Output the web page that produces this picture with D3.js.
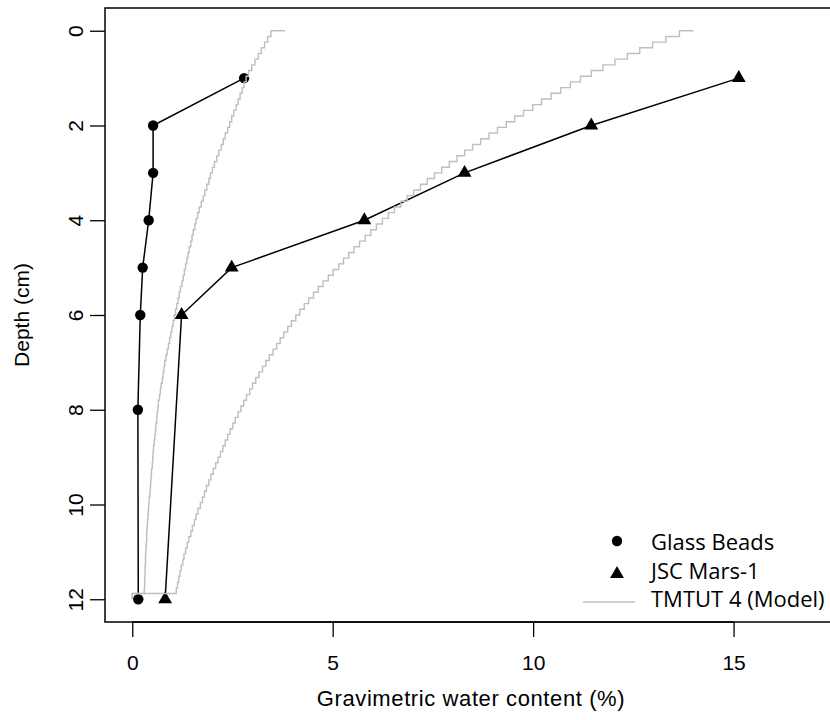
<!DOCTYPE html>
<html>
<head>
<meta charset="utf-8">
<script src="https://cdn.jsdelivr.net/npm/d3@7"></script>
<style>
  body { margin: 0; background: #fff; }
  figure { margin: 0; }
  svg { display: block; }
</style>
</head>
<body>
<figure></figure>
<script>
// measured profiles
const glassDepth = [1, 2, 3, 4, 5, 6, 8, 12];
const glassWater = [2.79, 0.52, 0.52, 0.41, 0.26, 0.20, 0.14, 0.15];

const marsDepth = [1, 2, 3, 4, 5, 6, 12];
const marsWater = [15.13, 11.45, 8.29, 5.79, 2.48, 1.23, 0.82];

// TMTUT 4 model output, one value per 0.12 cm layer
const modelDepth = [
  0.00, 0.12, 0.24, 0.36, 0.48, 0.60, 0.72, 0.84, 0.96, 1.08,
  1.20, 1.32, 1.44, 1.56, 1.68, 1.80, 1.92, 2.04, 2.16, 2.28,
  2.40, 2.52, 2.64, 2.76, 2.88, 3.00, 3.12, 3.24, 3.36, 3.48,
  3.60, 3.72, 3.84, 3.96, 4.08, 4.20, 4.32, 4.44, 4.56, 4.68,
  4.80, 4.92, 5.04, 5.16, 5.28, 5.40, 5.52, 5.64, 5.76, 5.88,
  6.00, 6.12, 6.24, 6.36, 6.48, 6.60, 6.72, 6.84, 6.96, 7.08,
  7.20, 7.32, 7.44, 7.56, 7.68, 7.80, 7.92, 8.04, 8.16, 8.28,
  8.40, 8.52, 8.64, 8.76, 8.88, 9.00, 9.12, 9.24, 9.36, 9.48,
  9.60, 9.72, 9.84, 9.96, 10.08, 10.20, 10.32, 10.44, 10.56, 10.68,
  10.80, 10.92, 11.04, 11.16, 11.28, 11.40, 11.52, 11.64, 11.76, 11.88,
  12.00
];
const modelGlass = [
  3.81, 3.46, 3.38, 3.30, 3.22, 3.14, 3.06, 2.98, 2.90, 2.84,
  2.79, 2.74, 2.69, 2.64, 2.59, 2.53, 2.48, 2.43, 2.38, 2.32,
  2.27, 2.22, 2.16, 2.11, 2.05, 2.00, 1.95, 1.91, 1.86, 1.81,
  1.77, 1.72, 1.67, 1.63, 1.59, 1.56, 1.52, 1.49, 1.46, 1.42,
  1.39, 1.36, 1.33, 1.30, 1.27, 1.24, 1.20, 1.17, 1.14, 1.11,
  1.08, 1.05, 1.02, 0.99, 0.96, 0.93, 0.90, 0.87, 0.84, 0.81,
  0.79, 0.77, 0.75, 0.72, 0.70, 0.68, 0.65, 0.64, 0.62, 0.61,
  0.59, 0.58, 0.56, 0.55, 0.53, 0.52, 0.51, 0.50, 0.48, 0.47,
  0.46, 0.45, 0.44, 0.42, 0.41, 0.40, 0.39, 0.38, 0.37, 0.36,
  0.36, 0.35, 0.34, 0.33, 0.33, 0.32, 0.32, 0.31, 0.31, 0.30,
  0
];
const modelMars = [
  14.00, 13.65, 13.31, 12.98, 12.66, 12.35, 12.04, 11.74, 11.45, 11.18,
  10.93, 10.69, 10.45, 10.21, 9.99, 9.76, 9.54, 9.33, 9.11, 8.90,
  8.69, 8.49, 8.29, 8.10, 7.91, 7.72, 7.54, 7.36, 7.19, 7.02,
  6.86, 6.70, 6.54, 6.39, 6.24, 6.09, 5.95, 5.81, 5.67, 5.53,
  5.40, 5.27, 5.15, 5.01, 4.89, 4.76, 4.64, 4.52, 4.40, 4.29,
  4.18, 4.08, 3.97, 3.88, 3.78, 3.69, 3.60, 3.51, 3.42, 3.33,
  3.25, 3.16, 3.08, 3.00, 2.93, 2.85, 2.78, 2.71, 2.64, 2.57,
  2.51, 2.44, 2.38, 2.32, 2.26, 2.20, 2.14, 2.08, 2.02, 1.96,
  1.91, 1.85, 1.80, 1.75, 1.70, 1.64, 1.59, 1.55, 1.50, 1.46,
  1.41, 1.37, 1.33, 1.29, 1.26, 1.22, 1.19, 1.16, 1.13, 1.10,
  0
];

const xTicks = [0, 5, 10, 15];
const yTicks = [0, 2, 4, 6, 8, 10, 12];
const legendLabels = ['Glass Beads', 'JSC Mars-1', 'TMTUT 4 (Model)'];

(() => {
  const width = 830;
  const height = 720;
  const box = {left: 105, top: 8, right: 841, bottom: 622};
  const xlim = [0, 17];
  const ylim = [0, 12];
  const padX = (xlim[1] - xlim[0]) * 0.04;
  const padY = (ylim[1] - ylim[0]) * 0.04;

  const svg = d3.select('figure').append('svg')
    .attr('width', width)
    .attr('height', height)
    .style('background-color', '#fff');

  const x = d3.scaleLinear()
    .domain([xlim[0] - padX, xlim[1] + padX])
    .range([box.left, box.right]);

  // depth grows downwards
  const y = d3.scaleLinear()
    .domain([ylim[0] - padY, ylim[1] + padY])
    .range([box.top, box.bottom]);

  const axisFont = '"Liberation Sans", Arial, sans-serif';

  const xAxis = d3.axisBottom(x)
    .tickValues(xTicks)
    .tickSize(15)
    .tickPadding(18)
    .tickFormat(d3.format('d'));

  const xGroup = svg.append('g')
    .attr('transform', `translate(0, ${box.bottom})`)
    .call(xAxis);

  const yAxis = d3.axisLeft(y)
    .tickValues(yTicks)
    .tickSize(15)
    .tickFormat(d3.format('d'));

  const yGroup = svg.append('g')
    .attr('transform', `translate(${box.left}, 0)`)
    .call(yAxis);

  [xGroup, yGroup].forEach((g) => {
    g.select('.domain').remove();
    g.selectAll('.tick line').attr('stroke', '#000').attr('stroke-width', 1.3);
    g.selectAll('.tick text')
      .attr('fill', '#000')
      .style('font-family', axisFont)
      .style('font-size', '21px');
  });

  // R style: y labels run parallel to the axis
  yGroup.selectAll('.tick text')
    .attr('x', 0)
    .attr('y', 0)
    .attr('dy', null)
    .attr('text-anchor', 'middle')
    .attr('dominant-baseline', 'central')
    .attr('transform', 'translate(-30, 0) rotate(-90)');

  svg.append('line')
    .attr('x1', x(xTicks[0])).attr('x2', x(xTicks[xTicks.length - 1]))
    .attr('y1', box.bottom).attr('y2', box.bottom)
    .attr('stroke', '#000').attr('stroke-width', 1.3);

  svg.append('rect')
    .attr('x', box.left)
    .attr('y', box.top)
    .attr('width', box.right - box.left)
    .attr('height', box.bottom - box.top)
    .attr('fill', 'none')
    .attr('stroke', '#000')
    .attr('stroke-width', 1.5);

  svg.append('text')
    .attr('x', (box.left + box.right) / 2 - 2)
    .attr('y', 706)
    .attr('text-anchor', 'middle')
    .style('font-family', axisFont)
    .style('font-size', '22px')
    .style('letter-spacing', '0.6px')
    .text('Gravimetric water content (%)');

  svg.append('text')
    .attr('transform', `translate(29, ${(box.top + box.bottom) / 2}) rotate(-90)`)
    .attr('text-anchor', 'middle')
    .style('font-family', axisFont)
    .style('font-size', '21px')
    .text('Depth (cm)');

  const plot = svg.append('g');

  const profileLine = d3.line()
    .x((d) => x(d[0]))
    .y((d) => y(d[1]));

  const glassPts = glassWater.map((v, i) => [v, glassDepth[i]]);
  const marsPts = marsWater.map((v, i) => [v, marsDepth[i]]);

  [glassPts, marsPts].forEach((pts) => {
    plot.append('path')
      .datum(pts)
      .attr('d', profileLine)
      .attr('fill', 'none')
      .attr('stroke', '#000')
      .attr('stroke-width', 1.5);
  });

  const circle = d3.symbol(d3.symbolCircle, 85);
  const triangle = d3.symbol(d3.symbolTriangle, 83);

  plot.selectAll('.glass')
    .data(glassPts)
    .join('path')
    .attr('class', 'glass')
    .attr('transform', (d) => `translate(${x(d[0])}, ${y(d[1])})`)
    .attr('d', circle)
    .attr('fill', '#000');

  plot.selectAll('.mars')
    .data(marsPts)
    .join('path')
    .attr('class', 'mars')
    .attr('transform', (d) => `translate(${x(d[0])}, ${y(d[1])})`)
    .attr('d', triangle)
    .attr('fill', '#000');

  // model staircases (R type = "s")
  const stepLine = d3.line()
    .curve(d3.curveStepAfter)
    .x((d) => x(d[0]))
    .y((d) => y(d[1]));

  [modelGlass, modelMars].forEach((series) => {
    plot.append('path')
      .datum(series.map((v, i) => [v, modelDepth[i]]))
      .attr('d', stepLine)
      .attr('fill', 'none')
      .attr('stroke', '#bebebe')
      .attr('stroke-width', 1.4);
  });

  // legend, no box
  const legend = svg.append('g')
    .style('font-family', '"Open Sans", "Noto Sans", sans-serif')
    .style('font-size', '22px');
  const rowY = [541, 570, 598];

  legend.append('path')
    .attr('transform', `translate(617, 541)`)
    .attr('d', circle());
  legend.append('path')
    .attr('transform', `translate(617, 574)`)
    .attr('d', triangle());
  legend.append('line')
    .attr('x1', 583).attr('x2', 635)
    .attr('y1', 602).attr('y2', 602)
    .attr('stroke', '#bebebe')
    .attr('stroke-width', 1.4);

  legend.selectAll('text')
    .data(legendLabels)
    .join('text')
    .attr('x', 651)
    .attr('y', (d, i) => rowY[i])
    .attr('dominant-baseline', 'central')
    .text((d) => d);
})();
</script>
</body>
</html>
